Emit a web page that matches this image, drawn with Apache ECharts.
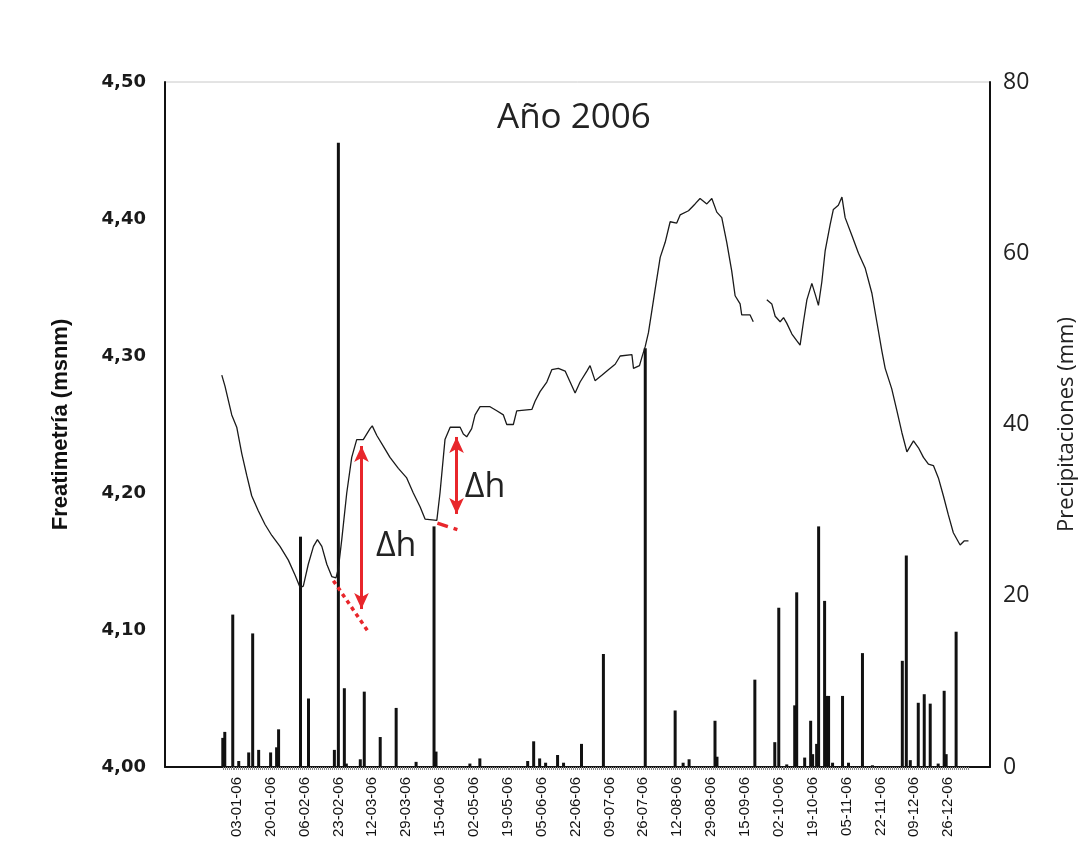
<!DOCTYPE html>
<html>
<head>
<meta charset="utf-8">
<script src="https://cdn.jsdelivr.net/npm/echarts@6/dist/echarts.min.js"></script>
<style>html,body{margin:0;padding:0;background:#fff}#c{width:1078px;height:842px}</style>
</head>
<body>
<div id="c"></div>
<script>
// ---- texts ----
const chartTitle = 'Año 2006';
const leftAxisName = 'Freatimetría (msnm)';
const rightAxisName = 'Precipitaciones (mm)';
const deltaLabel = 'Δh';

// ---- tick labels ----
const dateTickLabels = ['03-01-06','20-01-06','06-02-06','23-02-06','12-03-06','29-03-06','15-04-06','02-05-06','19-05-06','05-06-06','22-06-06','09-07-06','26-07-06','12-08-06','29-08-06','15-09-06','02-10-06','19-10-06','05-11-06','22-11-06','09-12-06','26-12-06'];
const levelTickLabels = ['4,00','4,10','4,20','4,30','4,40','4,50'];
const rainTickLabels = ['0','20','40','60','80'];

// ---- water level (days since 01-01-2006, m) ----
const levelDays = [-5.5,-3.9,-0.5,2,4.5,7,9.5,12.8,16.2,19.6,23.7,27.9,31.3,33.8,35.4,37.9,40.5,42.5,44.7,47.2,49.7,51.8,53,54.7,57.2,59.7,62.2,65.5,68.9,70,72.3,75.6,78.9,83.1,87.3,90.6,94,96.5,102.4,104,106.5,109.1,114.1,115.7,117.4,119.9,121.6,124.1,129.1,132.5,135.8,137.5,140.8,142.5,150.1,151.7,154.2,157.6,160.1,163.4,166.8,169.3,171.8,174.3,177.7,179.3,181.8,185.2,188.5,191.9,194.4,200.3,201.1,204.1,205.3,207,208.6,210.3,212,214.5,217,219.5,222.8,224.5,228.7,232,234.5,237.9,240.4,242.9,245.4,247.9,250.4,252.1,254.6,255.4,259.6,261.2,264,268,270.5,272.2,274.7,276.4,278,280.6,283.1,284.7,286.4,288.1,290.6,292.3,293.9,295.6,297.3,299.8,301.4,303.9,305.7,307.3,310.7,314,317.4,320.7,323.2,325.7,327.4,330.7,333.3,335.8,338.3,341.6,344.1,346.6,349.1,351.6,354.1,356.6,359.1,361.6,365,367,369.2];
const levelValues = [4.286,4.278,4.257,4.248,4.229,4.213,4.198,4.187,4.177,4.169,4.161,4.151,4.140,4.131,4.132,4.148,4.161,4.166,4.161,4.148,4.139,4.138,4.145,4.166,4.200,4.226,4.239,4.239,4.247,4.249,4.242,4.234,4.226,4.218,4.211,4.200,4.190,4.181,4.180,4.200,4.239,4.248,4.248,4.243,4.241,4.247,4.257,4.263,4.263,4.260,4.257,4.250,4.250,4.260,4.261,4.267,4.274,4.281,4.290,4.291,4.289,4.281,4.273,4.281,4.289,4.293,4.282,4.286,4.290,4.294,4.300,4.301,4.291,4.293,4.299,4.307,4.317,4.333,4.349,4.372,4.383,4.398,4.397,4.403,4.406,4.411,4.415,4.411,4.415,4.405,4.401,4.383,4.362,4.344,4.338,4.330,4.330,4.325,null,4.341,4.338,4.329,4.325,4.328,4.324,4.316,4.311,4.308,4.325,4.341,4.353,4.345,4.337,4.354,4.377,4.396,4.407,4.410,4.416,4.401,4.388,4.375,4.364,4.346,4.325,4.304,4.291,4.276,4.260,4.244,4.230,4.238,4.233,4.226,4.221,4.220,4.211,4.198,4.184,4.171,4.162,4.165,4.165];

// ---- daily precipitation (days since 01-01-2006, mm) ----
const rainDays = [-5,-4,0,3,8,10,13,19,22,23,34,38,51,53,56,57,64,66,74,82,92,101,102,119,124,148,151,154,157,163,166,175,186,207,222,226,229,242,243,262,272,274,278,282,283,287,290,291,293,294,297,298,299,301,306,309,316,321,336,338,340,344,347,350,354,357,358,363];
const rainValues = [3.4,4.1,17.8,0.7,1.7,15.6,2.0,1.7,2.3,4.4,26.9,8.0,2.0,72.9,9.2,0.4,0.9,8.8,3.5,6.9,0.6,28.1,1.8,0.4,1.0,0.7,3.0,1.0,0.5,1.4,0.5,2.7,13.2,48.9,6.6,0.5,0.9,5.4,1.2,10.2,2.9,18.6,0.3,7.2,20.4,1.1,5.4,1.5,2.7,28.1,19.4,8.3,8.3,0.5,8.3,0.5,13.3,0.2,12.4,24.7,0.8,7.5,8.5,7.4,0.4,8.9,1.5,15.8];

// ---- annotations (data coordinates: day, level) ----
const arrowA = [[64.6, 4.2343], [64.6, 4.1153]];
const arrowB = [[112.3, 4.2409], [112.3, 4.1847]];
const dottedA = [[50.5, 4.136], [68.1, 4.0985]];
const dashDotB = [[102.7, 4.178], [113.2, 4.173]];
const deltaPoints = [[82, 4.161], [126.6, 4.204]];

function dayOf(s) {
  const p = s.split('-').map(Number);
  return Math.round((Date.UTC(2000 + p[2], p[1] - 1, p[0]) - Date.UTC(2006, 0, 1)) / 864e5);
}
const tickDays = dateTickLabels.map(dayOf);
const labelByDay = {};
tickDays.forEach((d, i) => { labelByDay[d] = dateTickLabels[i]; });

// small daily tick marks along the time axis (axis decoration)
const dailyTicks = [];
for (let d = -5; d <= 369; d++) dailyTicks.push(d);

const levelData = levelDays.map((d, i) => [d, levelValues[i] === null ? '-' : levelValues[i]]);
const rainData = rainDays.map((d, i) => [d, rainValues[i]]);

const RED = '#e8262b';
const chart = echarts.init(document.getElementById('c'));
chart.setOption({
  animation: false,
  backgroundColor: '#fff',
  title: {
    text: chartTitle, left: 492, top: 96,
    textStyle: { fontFamily: 'Open Sans', fontSize: 35, fontWeight: 'normal', color: '#222' }
  },
  grid: {
    left: 165, right: 88, top: 82, bottom: 75,
    outerBoundsMode: 'none', containLabel: false,
    show: true, borderColor: '#c8c8c8', borderWidth: 1, backgroundColor: 'transparent'
  },
  xAxis: {
    type: 'value', min: -34, max: 380,
    axisLine: { show: true, onZero: false, lineStyle: { color: '#111', width: 2 } },
    axisTick: { show: true, customValues: dailyTicks, inside: false, length: 3, lineStyle: { color: '#888', width: 1 } },
    splitLine: { show: false },
    axisLabel: {
      customValues: tickDays,
      formatter: v => labelByDay[v] || '',
      rotate: 90, margin: 10,
      fontFamily: 'Liberation Sans, Arial', fontSize: 15, color: '#111'
    }
  },
  yAxis: [
    {
      type: 'value', min: 4.0, max: 4.5, interval: 0.1, position: 'left',
      axisLine: { show: true, onZero: false, lineStyle: { color: '#111', width: 2 } },
      axisTick: { show: false }, splitLine: { show: false },
      axisLabel: {
        formatter: v => levelTickLabels[Math.round((v - 4.0) / 0.1)],
        margin: 19, fontFamily: 'DejaVu Sans', fontWeight: 'bold', fontSize: 18, color: '#1a1a1a'
      },
      name: leftAxisName, nameLocation: 'middle', nameRotate: 90, nameGap: 93,
      nameTextStyle: { fontFamily: 'Liberation Sans', fontWeight: 'bold', fontSize: 22, color: '#111' }
    },
    {
      type: 'value', min: 0, max: 80, interval: 20, position: 'right',
      axisLine: { show: true, onZero: false, lineStyle: { color: '#111', width: 2 } },
      axisTick: { show: false }, splitLine: { show: false },
      axisLabel: {
        formatter: v => rainTickLabels[Math.round(v / 20)],
        margin: 13, fontFamily: 'Open Sans', fontSize: 23, color: '#222'
      },
      name: rightAxisName, nameLocation: 'middle', nameRotate: 90, nameGap: 66,
      nameTextStyle: { fontFamily: 'Open Sans', fontSize: 22, color: '#222' }
    }
  ],
  series: [
    {
      type: 'bar', name: 'Precipitaciones', yAxisIndex: 1, data: rainData,
      barWidth: 3, itemStyle: { color: '#111' }, silent: true
    },
    {
      type: 'line', name: 'Freatimetría', yAxisIndex: 0, data: levelData,
      showSymbol: false, connectNulls: false, silent: true,
      lineStyle: { color: '#1a1a1a', width: 1.3 },
      markLine: {
        silent: true, animation: false,
        label: { show: false },
        data: [
          [{ coord: arrowA[0], symbol: 'arrow', symbolSize: [11, 16], lineStyle: { color: RED, width: 3, type: 'solid' } },
           { coord: arrowA[1], symbol: 'arrow', symbolSize: [11, 16] }],
          [{ coord: arrowB[0], symbol: 'arrow', symbolSize: [11, 16], lineStyle: { color: RED, width: 3, type: 'solid' } },
           { coord: arrowB[1], symbol: 'arrow', symbolSize: [11, 16] }],
          [{ coord: dottedA[0], symbol: 'none', lineStyle: { color: RED, width: 3.5, type: [4, 4] } },
           { coord: dottedA[1], symbol: 'none' }],
          [{ coord: dashDotB[0], symbol: 'none', lineStyle: { color: RED, width: 3.5, type: [11, 6, 4, 6] } },
           { coord: dashDotB[1], symbol: 'none' }]
        ],
        itemStyle: { color: RED }
      },
      markPoint: {
        silent: true, animation: false,
        symbol: 'circle', symbolSize: 0,
        label: { show: true, position: 'inside', formatter: deltaLabel, fontFamily: 'Open Sans', fontSize: 34, color: '#222' },
        data: deltaPoints.map(c => ({ coord: c }))
      }
    }
  ]
});
</script>
</body>
</html>
